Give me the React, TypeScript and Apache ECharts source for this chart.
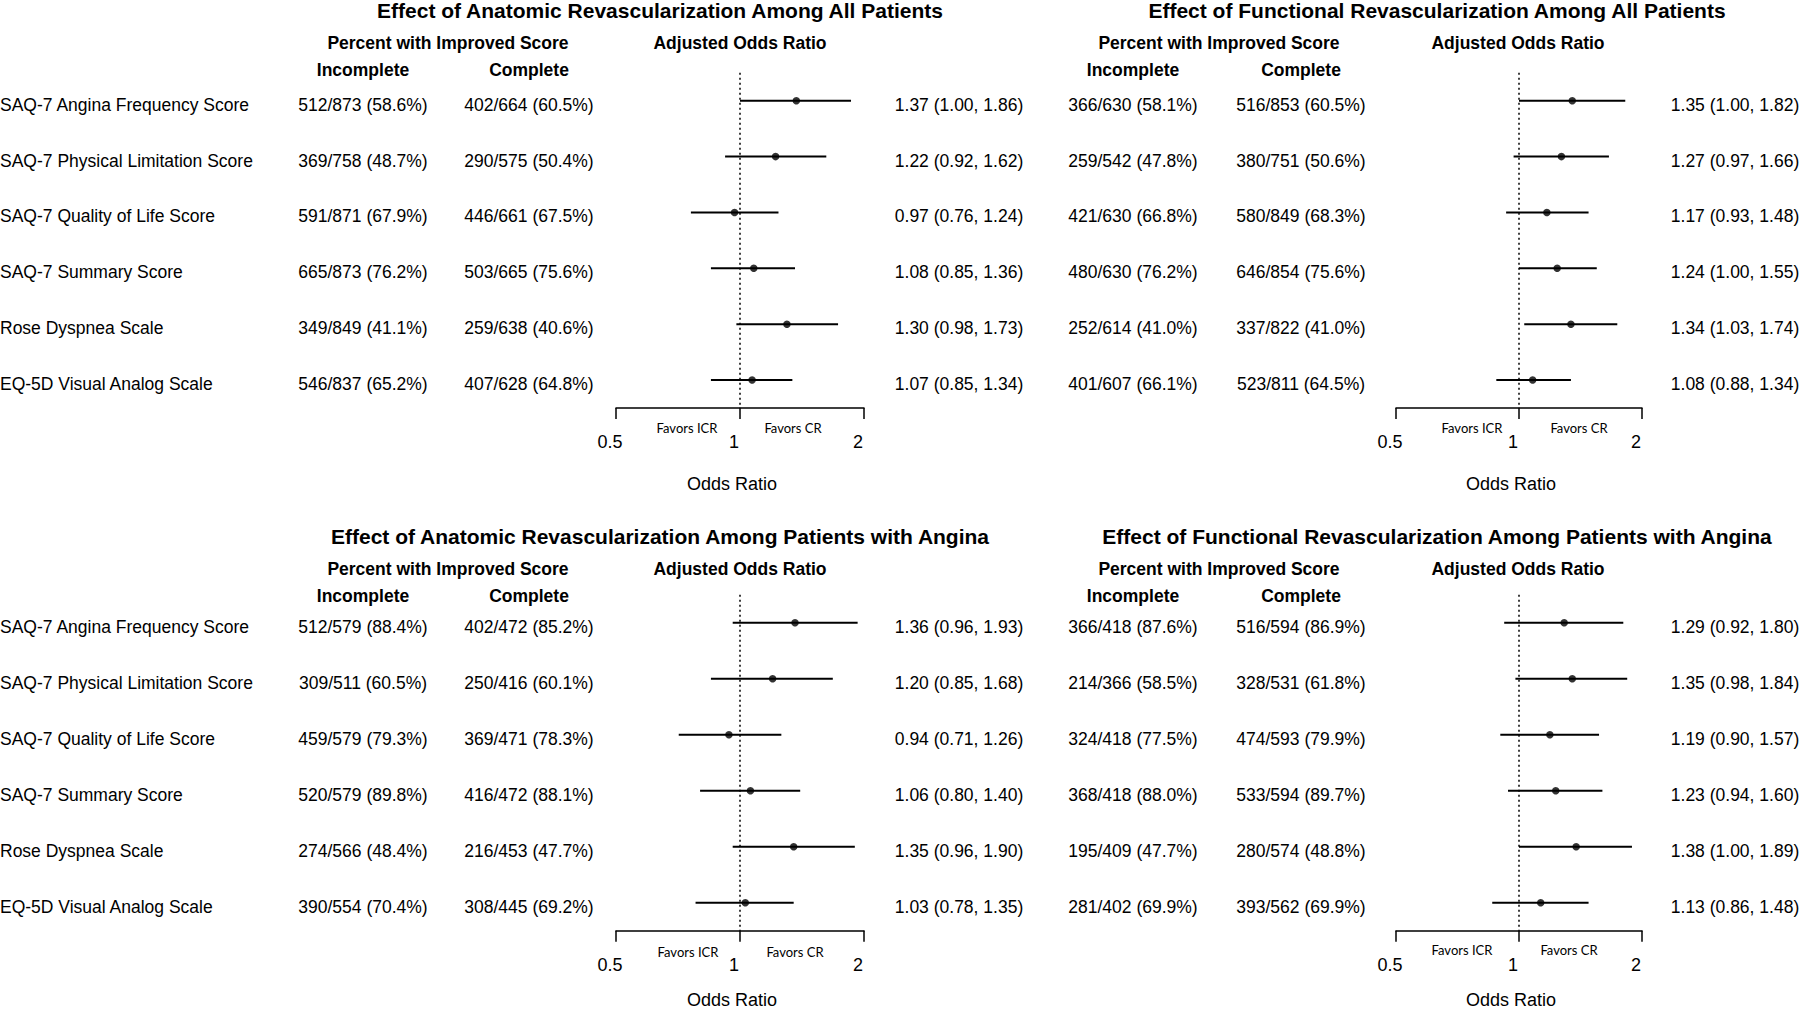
import React, { useEffect, useRef } from "react";
import * as echarts from "echarts";

const FONT = "'Liberation Sans', Arial, Helvetica, sans-serif";
const SMALL_FONT = "Lato, 'Open Sans', sans-serif";

const ROWS = [
  "SAQ-7 Angina Frequency Score",
  "SAQ-7 Physical Limitation Score",
  "SAQ-7 Quality of Life Score",
  "SAQ-7 Summary Score",
  "Rose Dyspnea Scale",
  "EQ-5D Visual Analog Scale",
];

const TITLES = [
  "Effect of Anatomic Revascularization Among All Patients",
  "Effect of Functional Revascularization Among All Patients",
  "Effect of Anatomic Revascularization Among Patients with Angina",
  "Effect of Functional Revascularization Among Patients with Angina",
];

const HEADER_PCT = "Percent with Improved Score";
const HEADER_OR = "Adjusted Odds Ratio";
const HEADER_INC = "Incomplete";
const HEADER_COMP = "Complete";
const FAVORS_LEFT = "Favors ICR";
const FAVORS_RIGHT = "Favors CR";
const X_NAME = "Odds Ratio";
const X_TICKS = [0.5, 1, 2];

// [improved, total, percent]
const anatAllInc = [[512, 873, 58.6], [369, 758, 48.7], [591, 871, 67.9], [665, 873, 76.2], [349, 849, 41.1], [546, 837, 65.2]];
const anatAllComp = [[402, 664, 60.5], [290, 575, 50.4], [446, 661, 67.5], [503, 665, 75.6], [259, 638, 40.6], [407, 628, 64.8]];
// [odds ratio, lower, upper]
const anatAllOR = [[1.37, 1.0, 1.86], [1.22, 0.92, 1.62], [0.97, 0.76, 1.24], [1.08, 0.85, 1.36], [1.3, 0.98, 1.73], [1.07, 0.85, 1.34]];

const funcAllInc = [[366, 630, 58.1], [259, 542, 47.8], [421, 630, 66.8], [480, 630, 76.2], [252, 614, 41.0], [401, 607, 66.1]];
const funcAllComp = [[516, 853, 60.5], [380, 751, 50.6], [580, 849, 68.3], [646, 854, 75.6], [337, 822, 41.0], [523, 811, 64.5]];
const funcAllOR = [[1.35, 1.0, 1.82], [1.27, 0.97, 1.66], [1.17, 0.93, 1.48], [1.24, 1.0, 1.55], [1.34, 1.03, 1.74], [1.08, 0.88, 1.34]];

const anatAngInc = [[512, 579, 88.4], [309, 511, 60.5], [459, 579, 79.3], [520, 579, 89.8], [274, 566, 48.4], [390, 554, 70.4]];
const anatAngComp = [[402, 472, 85.2], [250, 416, 60.1], [369, 471, 78.3], [416, 472, 88.1], [216, 453, 47.7], [308, 445, 69.2]];
const anatAngOR = [[1.36, 0.96, 1.93], [1.2, 0.85, 1.68], [0.94, 0.71, 1.26], [1.06, 0.8, 1.4], [1.35, 0.96, 1.9], [1.03, 0.78, 1.35]];

const funcAngInc = [[366, 418, 87.6], [214, 366, 58.5], [324, 418, 77.5], [368, 418, 88.0], [195, 409, 47.7], [281, 402, 69.9]];
const funcAngComp = [[516, 594, 86.9], [328, 531, 61.8], [474, 593, 79.9], [533, 594, 89.7], [280, 574, 48.8], [393, 562, 69.9]];
const funcAngOR = [[1.29, 0.92, 1.8], [1.35, 0.98, 1.84], [1.19, 0.9, 1.57], [1.23, 0.94, 1.6], [1.38, 1.0, 1.89], [1.13, 0.86, 1.48]];

const PANELS = [
  { title: TITLES[0], inc: anatAllInc, comp: anatAllComp, or: anatAllOR, names: true },
  { title: TITLES[1], inc: funcAllInc, comp: funcAllComp, or: funcAllOR, names: false },
  { title: TITLES[2], inc: anatAngInc, comp: anatAngComp, or: anatAngOR, names: true },
  { title: TITLES[3], inc: funcAngInc, comp: funcAngComp, or: funcAngOR, names: false },
];

// layout (pixels)
const TEXT_SHIFT = 4;
const LAYOUT = [
  { left: 616, width: 248, top: 72.8, height: 335.2, incX: 363, compX: 529, orX: 959, titleX: 660, titleY: 10, hdrY: 43, subY: 70, pctX: 448, adjX: 740, favY: 428, favL: 687, favR: 793, nameGap: 67 },
  { left: 1396, width: 246, top: 72.8, height: 335.2, incX: 1133, compX: 1301, orX: 1735, titleX: 1437, titleY: 10, hdrY: 43, subY: 70, pctX: 1219, adjX: 1518, favY: 428, favL: 1472, favR: 1579, nameGap: 67 },
  { left: 616, width: 248, top: 594.7, height: 336, incX: 363, compX: 529, orX: 959, titleX: 660, titleY: 536, hdrY: 569, subY: 596, pctX: 448, adjX: 740, favY: 952, favL: 688, favR: 795, nameGap: 60 },
  { left: 1396, width: 246, top: 594.7, height: 336, incX: 1133, compX: 1301, orX: 1735, titleX: 1437, titleY: 536, hdrY: 569, subY: 596, pctX: 1219, adjX: 1518, favY: 950, favL: 1462, favR: 1569, nameGap: 60 },
];

const BODY_SIZE = 17.5;

const fmtCount = (t: number[]) => `${t[0]}/${t[1]} (${t[2].toFixed(1)}%)`;
const fmtOR = (t: number[]) => `${t[0].toFixed(2)} (${t[1].toFixed(2)}, ${t[2].toFixed(2)})`;

function text(x: number, y: number, s: string, size: number, bold: boolean, family = FONT) {
  return {
    type: "text",
    x,
    y,
    silent: true,
    style: {
      text: s,
      fill: "#000",
      fontSize: size,
      fontWeight: bold ? "bold" : "normal",
      fontFamily: family,
      align: "center",
      textAlign: "center",
      verticalAlign: "middle",
      textVerticalAlign: "middle",
    },
  };
}

function buildOption() {
  const grid: any[] = [];
  const xAxis: any[] = [];
  const yAxis: any[] = [];
  const series: any[] = [];
  const graphic: any[] = [];

  PANELS.forEach((p, k) => {
    const L = LAYOUT[k];
    // forest grid
    const gPlot = grid.length;
    grid.push({ left: L.left, top: L.top, width: L.width, height: L.height, containLabel: false, outerBoundsMode: "none" });
    // text-table grid (same rows, baseline slightly lower)
    const gText = grid.length;
    grid.push({ left: L.left, top: L.top + TEXT_SHIFT, width: L.width, height: L.height, containLabel: false, outerBoundsMode: "none" });

    const xPlot = xAxis.length;
    xAxis.push({
      type: "log",
      logBase: 2,
      gridIndex: gPlot,
      min: X_TICKS[0],
      max: X_TICKS[X_TICKS.length - 1],
      name: X_NAME,
      nameLocation: "middle",
      nameGap: L.nameGap,
      nameTextStyle: { fontFamily: FONT, fontSize: 18, color: "#000", padding: [0, 16, 0, 0] },
      axisLine: { show: true, lineStyle: { color: "#000", width: 1.5 } },
      axisTick: { show: true, inside: false, length: 11, lineStyle: { color: "#000", width: 1.5 } },
      axisLabel: {
        margin: 25,
        fontFamily: FONT,
        fontSize: 18,
        color: "#000",
        padding: [0, 12, 0, 0],
        formatter: (v: number) => `${+Number(v).toPrecision(3)}`,
      },
      splitLine: { show: false },
    });
    xAxis.push({ type: "value", gridIndex: gText, show: false, min: 0, max: 1 });

    const baseY = {
      type: "category",
      data: ROWS,
      inverse: true,
      axisLine: { show: false },
      axisTick: { show: false },
      splitLine: { show: false },
    };
    const labelBase = { interval: 0, fontFamily: FONT, fontSize: BODY_SIZE, color: "#000", margin: 0 };

    const yPlot = yAxis.length;
    yAxis.push({ ...baseY, gridIndex: gPlot, axisLabel: { show: false } });

    yAxis.push({
      ...baseY,
      gridIndex: gText,
      position: "left",
      offset: L.left - L.incX,
      axisLabel: { ...labelBase, align: "center", formatter: (_v: string, i: number) => fmtCount(p.inc[i]) },
    });
    yAxis.push({
      ...baseY,
      gridIndex: gText,
      position: "left",
      offset: L.left - L.compX,
      axisLabel: { ...labelBase, align: "center", formatter: (_v: string, i: number) => fmtCount(p.comp[i]) },
    });
    yAxis.push({
      ...baseY,
      gridIndex: gText,
      position: "right",
      offset: L.orX - (L.left + L.width),
      axisLabel: { ...labelBase, align: "center", formatter: (_v: string, i: number) => fmtOR(p.or[i]) },
    });
    if (p.names) {
      yAxis.push({
        ...baseY,
        gridIndex: gText,
        position: "left",
        offset: L.left,
        axisLabel: { ...labelBase, align: "left" },
      });
    }

    series.push({
      type: "custom",
      xAxisIndex: xPlot,
      yAxisIndex: yPlot,
      silent: true,
      z: 3,
      data: p.or.map((t, i) => [t[1], t[2], i]),
      encode: { x: [0, 1], y: 2 },
      renderItem: (_params: any, api: any) => {
        const a = api.coord([api.value(0), api.value(2)]);
        const b = api.coord([api.value(1), api.value(2)]);
        return {
          type: "line",
          shape: { x1: a[0], y1: a[1], x2: b[0], y2: b[1] },
          style: { stroke: "#000", lineWidth: 2 },
        };
      },
    });
    series.push({
      type: "scatter",
      xAxisIndex: xPlot,
      yAxisIndex: yPlot,
      silent: true,
      z: 4,
      symbol: "circle",
      symbolSize: 7.5,
      itemStyle: { color: "#000" },
      data: p.or.map((t, i) => [t[0], i]),
      markLine: {
        silent: true,
        symbol: ["none", "none"],
        label: { show: false },
        lineStyle: { type: [2, 3], color: "#000", width: 1.5 },
        data: [{ xAxis: 1 }],
      },
    });

    graphic.push(text(L.titleX, L.titleY, p.title, 21, true));
    graphic.push(text(L.pctX, L.hdrY, HEADER_PCT, BODY_SIZE, true));
    graphic.push(text(L.adjX, L.hdrY, HEADER_OR, BODY_SIZE, true));
    graphic.push(text(L.incX, L.subY, HEADER_INC, BODY_SIZE, true));
    graphic.push(text(L.compX, L.subY, HEADER_COMP, BODY_SIZE, true));
    graphic.push(text(L.favL, L.favY, FAVORS_LEFT, 13, false, SMALL_FONT));
    graphic.push(text(L.favR, L.favY, FAVORS_RIGHT, 13, false, SMALL_FONT));
  });

  return {
    animation: false,
    backgroundColor: "#fff",
    textStyle: { fontFamily: FONT },
    grid,
    xAxis,
    yAxis,
    series,
    graphic,
  };
}

export default function App() {
  const ref = useRef<HTMLDivElement>(null);
  useEffect(() => {
    const chart = echarts.init(ref.current!, null, { renderer: "svg" });
    chart.setOption(buildOption() as any);
    return () => chart.dispose();
  }, []);
  return (
    <div
      ref={ref}
      style={{ position: "fixed", left: 0, top: 0, width: 1800, height: 1013, background: "#fff" }}
    />
  );
}
